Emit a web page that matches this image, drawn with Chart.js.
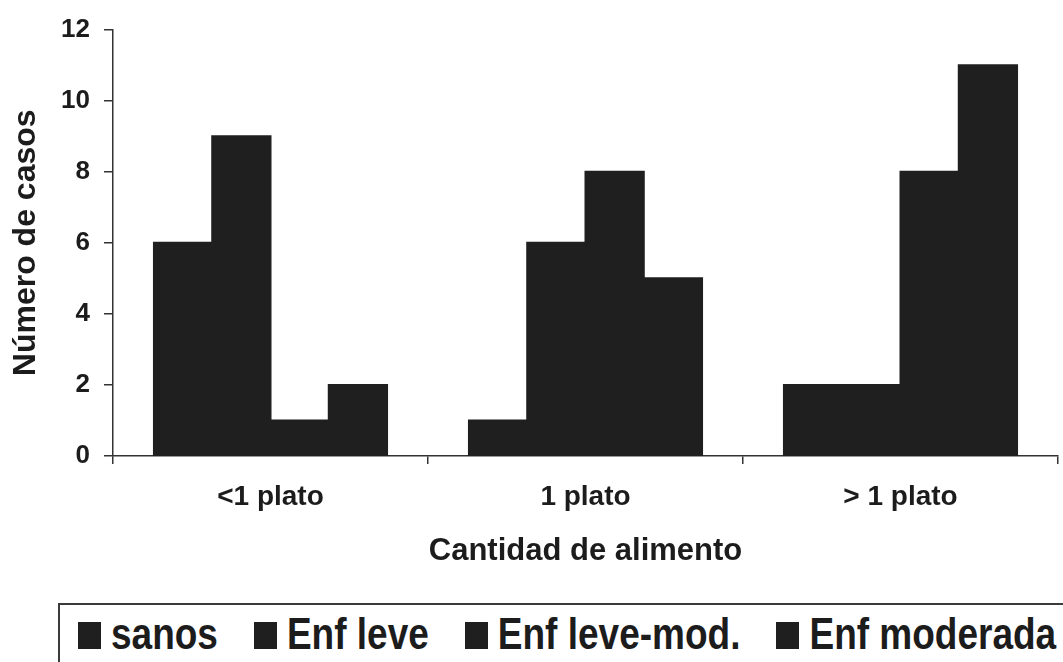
<!DOCTYPE html>
<html>
<head>
<meta charset="utf-8">
<script src="https://cdn.jsdelivr.net/npm/chart.js@4"></script>
<style>
  body { margin: 0; background: #fff; font-family: "Liberation Sans", Arial, sans-serif; }
  #wrap { position: relative; width: 1063px; height: 662px; }
  #chart { position: absolute; left: 0; top: 0; }
  #legend {
    position: absolute; left: 58px; top: 603px; width: 1010px; height: 70px;
    border-top: 2px solid #3a3a3a; border-left: 2px solid #3a3a3a;
    display: flex; align-items: center; padding-left: 18px; box-sizing: border-box;
    color: #1c1c1c; font-weight: bold; font-size: 37px; padding-bottom: 8px;
  }
  .item { display: flex; align-items: center; margin-right: 36px; }
  .box { width: 23px; height: 27px; background: #1f1f1f; margin-right: 10px; }
  .lbl { display: inline-block; transform: scaleY(1.2); white-space: nowrap; }
</style>
</head>
<body>
<div id="wrap">
  <canvas id="chart" width="1063" height="600"></canvas>
  <div id="legend"></div>
</div>
<script>
const categories = ['<1 plato', '1 plato', '> 1 plato'];
const seriesNames = ['sanos', 'Enf leve', 'Enf leve-mod.', 'Enf moderada'];
const sanos = [6, 1, 2];
const enfLeve = [9, 6, 2];
const enfLeveMod = [1, 8, 8];
const enfModerada = [2, 5, 11];
const yTicks = [0, 2, 4, 6, 8, 10, 12];

const barColor = '#1f1f1f';
const axisColor = '#333333';
const textColor = '#1c1c1c';

const seriesValues = [sanos, enfLeve, enfLeveMod, enfModerada];

new Chart(document.getElementById('chart'), {
    type: 'bar',
    data: {
        labels: categories,
        datasets: seriesNames.map((name, i) => ({
            label: name,
            data: seriesValues[i],
            backgroundColor: barColor,
            borderColor: barColor,
            borderWidth: 0,
            inflateAmount: 1,
            categoryPercentage: 0.74,
            barPercentage: 1.0
        }))
    },
    options: {
        responsive: false,
        animation: false,
        layout: { padding: { top: 26, right: 5, left: 0, bottom: 0 } },
        plugins: {
            legend: { display: false },
            tooltip: { enabled: false }
        },
        scales: {
            x: {
                grid: { drawOnChartArea: false, drawTicks: true, tickLength: 8, color: axisColor, lineWidth: 1.5 },
                border: { color: axisColor, width: 1.5 },
                ticks: {
                    color: textColor, padding: 16,
                    font: { family: 'Liberation Sans', size: 28, weight: 'bold' }
                },
                title: {
                    display: true, text: 'Cantidad de alimento', color: textColor,
                    font: { family: 'Liberation Sans', size: 31, weight: 'bold' },
                    padding: { top: 0, bottom: 30 }
                },
                afterFit: (s) => { s.height = 144; }
            },
            y: {
                min: 0, max: 12,
                afterBuildTicks: (s) => { s.ticks = yTicks.map(v => ({ value: v })); },
                grid: { drawOnChartArea: false, drawTicks: true, tickLength: 9, color: axisColor, lineWidth: 1.5 },
                border: { color: axisColor, width: 1.5 },
                ticks: {
                    color: textColor, padding: 14,
                    font: { family: 'Liberation Sans', size: 26, weight: 'bold' }
                },
                title: {
                    display: true, text: 'Número de casos', color: textColor,
                    font: { family: 'Liberation Sans', size: 32, weight: 'bold' },
                    padding: { top: 7, bottom: 0 }
                },
                afterFit: (s) => { s.width = 113; }
            }
        }
    }
});

const legend = document.getElementById('legend');
seriesNames.forEach((name) => {
    const item = document.createElement('div');
    item.className = 'item';
    const box = document.createElement('span');
    box.className = 'box';
    const lbl = document.createElement('span');
    lbl.className = 'lbl';
    lbl.textContent = name;
    item.appendChild(box);
    item.appendChild(lbl);
    legend.appendChild(item);
});
</script>
</body>
</html>
